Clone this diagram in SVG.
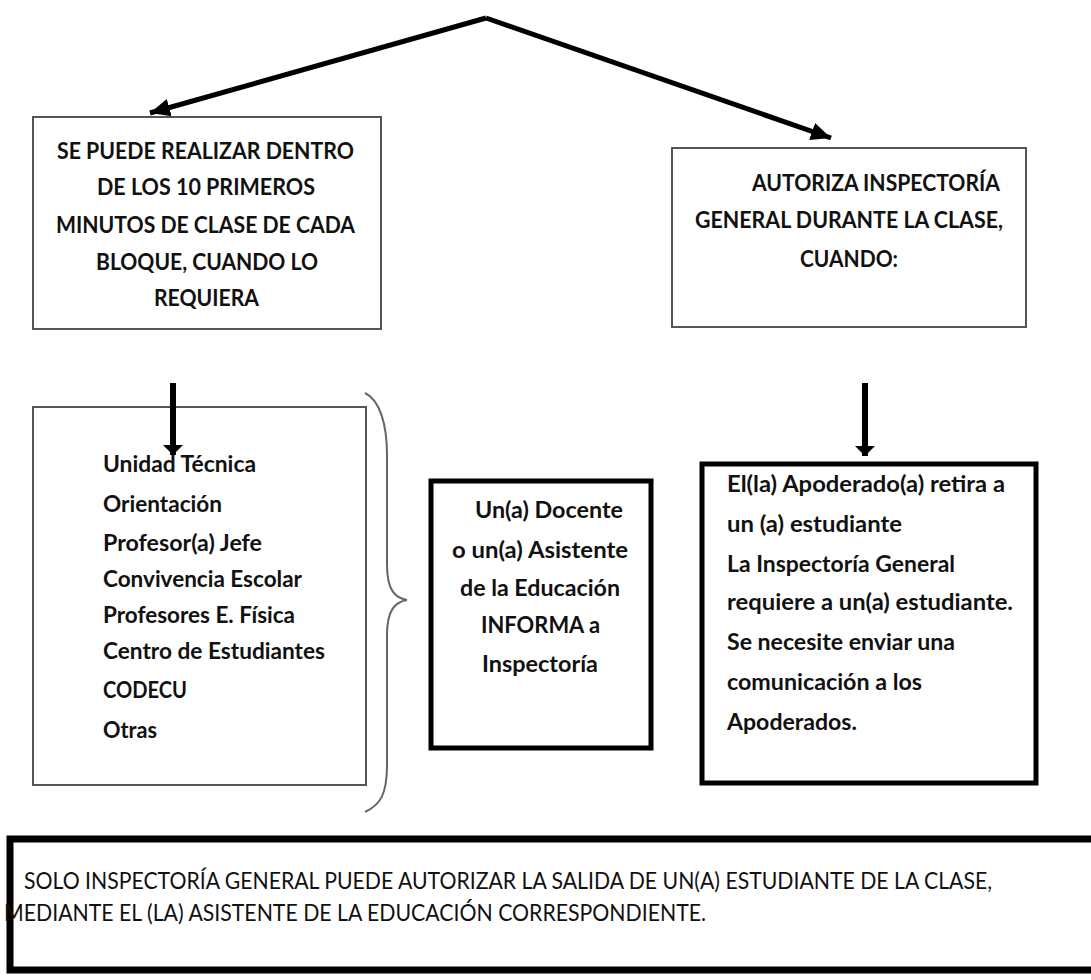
<svg xmlns="http://www.w3.org/2000/svg" width="1091" height="980" viewBox="0 0 1091 980">
<defs>
<style>
.thin{fill:#fff;stroke:#555;stroke-width:2}
.thick{fill:#fff;stroke:#000;stroke-width:5}
.t{font-family:"Lato","Open Sans","Liberation Sans",sans-serif;font-weight:bold;font-size:23px;fill:#111}
.n{font-family:"Lato","Open Sans","Liberation Sans",sans-serif;font-size:23px;fill:#111}
.c{fill:none;stroke:#000;stroke-width:5}
.v{fill:none;stroke:#000;stroke-width:6}
.brace{fill:none;stroke:#666;stroke-width:2}
</style>
<marker id="ah" markerUnits="userSpaceOnUse" markerWidth="22" markerHeight="22" viewBox="0 0 22 22" refX="20" refY="11" orient="auto">
<path d="M0,2 L20,11 L0,20 Z" fill="#000"/>
</marker>
<marker id="av" markerUnits="userSpaceOnUse" markerWidth="12" markerHeight="22" viewBox="0 0 12 22" refX="10" refY="11" orient="auto">
<path d="M0,1 L10,11 L0,21 Z" fill="#000"/>
</marker>
</defs>

<g id="node-realizar">
<rect class="thin" x="33" y="117" width="348" height="212"/>
<text class="t" x="57" y="159" textLength="297" lengthAdjust="spacingAndGlyphs">SE PUEDE REALIZAR DENTRO</text>
<text class="t" x="97" y="195" textLength="218" lengthAdjust="spacingAndGlyphs">DE LOS 10 PRIMEROS</text>
<text class="t" x="56" y="233" textLength="299" lengthAdjust="spacingAndGlyphs">MINUTOS DE CLASE DE CADA</text>
<text class="t" x="96" y="270" textLength="222" lengthAdjust="spacingAndGlyphs">BLOQUE, CUANDO LO</text>
<text class="t" x="154" y="306" textLength="105" lengthAdjust="spacingAndGlyphs">REQUIERA</text>
</g>

<g id="node-autoriza">
<rect class="thin" x="672" y="148" width="354" height="179"/>
<text class="t" x="752" y="191" textLength="248" lengthAdjust="spacingAndGlyphs">AUTORIZA INSPECTORÍA</text>
<text class="t" x="695" y="228" textLength="308" lengthAdjust="spacingAndGlyphs">GENERAL DURANTE LA CLASE,</text>
<text class="t" x="800" y="267" textLength="98" lengthAdjust="spacingAndGlyphs">CUANDO:</text>
</g>

<g id="node-lista">
<rect class="thin" x="33" y="407" width="333" height="378"/>
<text class="t" x="103" y="472" textLength="153" lengthAdjust="spacingAndGlyphs">Unidad Técnica</text>
<text class="t" x="103" y="512" textLength="119" lengthAdjust="spacingAndGlyphs">Orientación</text>
<text class="t" x="103" y="551" textLength="159" lengthAdjust="spacingAndGlyphs">Profesor(a) Jefe</text>
<text class="t" x="103" y="587" textLength="199" lengthAdjust="spacingAndGlyphs">Convivencia Escolar</text>
<text class="t" x="103" y="623" textLength="192" lengthAdjust="spacingAndGlyphs">Profesores E. Física</text>
<text class="t" x="103" y="659" textLength="222" lengthAdjust="spacingAndGlyphs">Centro de Estudiantes</text>
<text class="t" x="103" y="698" textLength="84" lengthAdjust="spacingAndGlyphs">CODECU</text>
<text class="t" x="103" y="738" textLength="54" lengthAdjust="spacingAndGlyphs">Otras</text>
</g>

<g id="brace">
<path class="brace" d="M365,393 C380,400 387,425 387,455 L387,565 C387,590 395,598 407,600 C395,602 387,610 387,635 L387,765 C387,795 380,805 365,812"/>
</g>

<g id="node-docente">
<rect class="thick" x="431" y="481" width="220" height="267"/>
<text class="t" x="475" y="518" textLength="148" lengthAdjust="spacingAndGlyphs">Un(a) Docente</text>
<text class="t" x="452" y="558" textLength="176" lengthAdjust="spacingAndGlyphs">o un(a) Asistente</text>
<text class="t" x="460" y="596" textLength="160" lengthAdjust="spacingAndGlyphs">de la Educación</text>
<text class="t" x="481" y="633" textLength="119" lengthAdjust="spacingAndGlyphs">INFORMA a</text>
<text class="t" x="482" y="672" textLength="116" lengthAdjust="spacingAndGlyphs">Inspectoría</text>
</g>

<g id="node-apoderado">
<rect class="thick" x="702" y="464" width="334" height="319"/>
<text class="t" x="727" y="492" textLength="278" lengthAdjust="spacingAndGlyphs">El(la) Apoderado(a) retira a</text>
<text class="t" x="727" y="532" textLength="175" lengthAdjust="spacingAndGlyphs">un (a) estudiante</text>
<text class="t" x="727" y="572" textLength="228" lengthAdjust="spacingAndGlyphs">La Inspectoría General</text>
<text class="t" x="727" y="610" textLength="286" lengthAdjust="spacingAndGlyphs">requiere a un(a) estudiante.</text>
<text class="t" x="727" y="650" textLength="228" lengthAdjust="spacingAndGlyphs">Se necesite enviar una</text>
<text class="t" x="727" y="690" textLength="195" lengthAdjust="spacingAndGlyphs">comunicación a los</text>
<text class="t" x="727" y="730" textLength="130" lengthAdjust="spacingAndGlyphs">Apoderados.</text>
</g>

<g id="node-solo">
<rect x="10" y="839" width="1100" height="131" fill="#fff" stroke="#000" stroke-width="7"/>
<text class="n" x="24" y="889" textLength="968" lengthAdjust="spacingAndGlyphs">SOLO INSPECTORÍA GENERAL PUEDE AUTORIZAR LA SALIDA DE UN(A) ESTUDIANTE DE LA CLASE,</text>
<text class="n" x="4" y="921" textLength="702" lengthAdjust="spacingAndGlyphs">MEDIANTE EL (LA) ASISTENTE DE LA EDUCACIÓN CORRESPONDIENTE.</text>
</g>

<g id="connectors">
<path class="c" d="M486,18 L150,113" marker-end="url(#ah)"/>
<path class="c" d="M486,18 L831,138" marker-end="url(#ah)"/>
<path class="v" d="M173,383 L173,455" marker-end="url(#av)"/>
<path class="v" d="M865,383 L865,456" marker-end="url(#av)"/>
</g>
</svg>
